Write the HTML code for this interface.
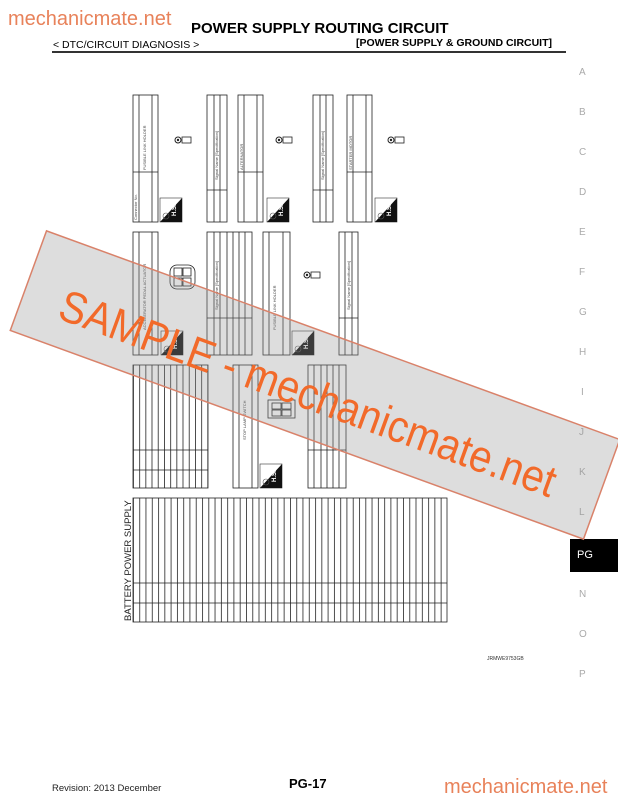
<!DOCTYPE html>
<html><head><meta charset="utf-8"><style>
html,body{margin:0;padding:0;background:#fff;}
body{width:618px;height:800px;position:relative;overflow:hidden;font-family:"Liberation Sans",sans-serif;}
.t{position:absolute;white-space:nowrap;}
.side{position:absolute;left:579px;font-size:10px;color:#aaa;}
</style></head><body>
<div class="t" style="left:8px;top:8px;font-size:20px;color:#e8825a;">mechanicmate.net</div>
<div class="t" style="left:191px;top:20px;font-size:15px;font-weight:bold;">POWER SUPPLY ROUTING CIRCUIT</div>
<div class="t" style="left:53px;top:39px;font-size:10.5px;">&lt; DTC/CIRCUIT DIAGNOSIS &gt;</div>
<div class="t" style="left:356px;top:37px;font-size:10.5px;font-weight:bold;">[POWER SUPPLY &amp; GROUND CIRCUIT]</div>
<div style="position:absolute;left:52px;top:51px;width:514px;height:2px;background:#333;"></div>

<div class="side" style="top:67px">A</div>
<div class="side" style="top:107px">B</div>
<div class="side" style="top:147px">C</div>
<div class="side" style="top:187px">D</div>
<div class="side" style="top:227px">E</div>
<div class="side" style="top:267px">F</div>
<div class="side" style="top:307px">G</div>
<div class="side" style="top:347px">H</div>
<div class="side" style="top:387px;left:581px">I</div>
<div class="side" style="top:427px">J</div>
<div class="side" style="top:467px">K</div>
<div class="side" style="top:507px">L</div>
<div style="position:absolute;left:570px;top:539px;width:48px;height:33px;background:#000;"></div>
<div class="t" style="left:577px;top:549px;font-size:11px;color:#fff;">PG</div>
<div class="side" style="top:589px">N</div>
<div class="side" style="top:629px">O</div>
<div class="side" style="top:669px">P</div>

<svg width="618" height="800" style="position:absolute;left:0;top:0" xmlns="http://www.w3.org/2000/svg">
<defs>
<pattern id="vl" x="133" y="0" width="6.28" height="10" patternUnits="userSpaceOnUse"><rect x="0" y="0" width="0.8" height="10" fill="#222"/></pattern>
<pattern id="vl2" x="133" y="0" width="6.2" height="10" patternUnits="userSpaceOnUse"><rect x="0" y="0" width="0.8" height="10" fill="#222"/></pattern>
<g id="hs"><rect x="0" y="0" width="22" height="24" fill="#fff" stroke="#333" stroke-width="0.6"/><polygon points="22,0 22,24 0,24" fill="#111"/><text x="16" y="18" font-size="6" fill="#fff" font-weight="bold" transform="rotate(-90 16 18)">H.S.</text><circle cx="6" cy="18" r="3" fill="none" stroke="#555" stroke-width="0.6"/></g>
<g id="tag"><circle cx="3" cy="3" r="3" fill="none" stroke="#222" stroke-width="1"/><circle cx="3" cy="3" r="1.2" fill="#222"/><rect x="7" y="0" width="9" height="6" fill="none" stroke="#222" stroke-width="0.8"/></g>
</defs>
<g fill="none" stroke="#222" stroke-width="0.8">
<rect x="133" y="95" width="25" height="127"/><line x1="139" y1="95" x2="139" y2="222"/><line x1="152" y1="95" x2="152" y2="222"/><line x1="133" y1="172" x2="158" y2="172"/>
<rect x="207" y="95" width="20" height="127"/><line x1="214" y1="95" x2="214" y2="222"/><line x1="220" y1="95" x2="220" y2="222"/><line x1="207" y1="190" x2="227" y2="190"/>
<rect x="238" y="95" width="25" height="127"/><line x1="244" y1="95" x2="244" y2="222"/><line x1="257" y1="95" x2="257" y2="222"/><line x1="238" y1="172" x2="263" y2="172"/>
<rect x="313" y="95" width="20" height="127"/><line x1="320" y1="95" x2="320" y2="222"/><line x1="326" y1="95" x2="326" y2="222"/><line x1="313" y1="190" x2="333" y2="190"/>
<rect x="347" y="95" width="25" height="127"/><line x1="353" y1="95" x2="353" y2="222"/><line x1="366" y1="95" x2="366" y2="222"/><line x1="347" y1="172" x2="372" y2="172"/>
<rect x="133" y="232" width="25" height="123"/><line x1="139" y1="232" x2="139" y2="355"/><line x1="152" y1="232" x2="152" y2="355"/>
<rect x="207" y="232" width="45" height="123"/><line x1="214" y1="232" x2="214" y2="355"/><line x1="220" y1="232" x2="220" y2="355"/><line x1="227" y1="232" x2="227" y2="355"/><line x1="233" y1="232" x2="233" y2="355"/><line x1="239" y1="232" x2="239" y2="355"/><line x1="245" y1="232" x2="245" y2="355"/><line x1="207" y1="318" x2="252" y2="318"/>
<rect x="263" y="232" width="27" height="123"/><line x1="269" y1="232" x2="269" y2="355"/><line x1="283" y1="232" x2="283" y2="355"/>
<rect x="339" y="232" width="19" height="123"/><line x1="345" y1="232" x2="345" y2="355"/><line x1="352" y1="232" x2="352" y2="355"/><line x1="339" y1="318" x2="358" y2="318"/>
<rect x="170" y="265" width="25" height="24" rx="7"/><rect x="174" y="268" width="8" height="8"/><rect x="183" y="268" width="8" height="8"/><rect x="174" y="278" width="8" height="8"/><rect x="183" y="278" width="8" height="8"/>
<rect x="133" y="365" width="75" height="123"/><line x1="133" y1="450" x2="208" y2="450"/><line x1="133" y1="470" x2="208" y2="470"/>
<rect x="233" y="365" width="25" height="123"/><line x1="239" y1="365" x2="239" y2="488"/><line x1="252" y1="365" x2="252" y2="488"/>
<rect x="308" y="365" width="38" height="123"/><line x1="314" y1="365" x2="314" y2="488"/><line x1="321" y1="365" x2="321" y2="488"/><line x1="327" y1="365" x2="327" y2="488"/><line x1="333" y1="365" x2="333" y2="488"/><line x1="339" y1="365" x2="339" y2="488"/><line x1="308" y1="450" x2="346" y2="450"/>
<rect x="268" y="400" width="27" height="18"/><rect x="272" y="403" width="9" height="6"/><rect x="282" y="403" width="9" height="6"/><rect x="272" y="410" width="9" height="6"/><rect x="282" y="410" width="9" height="6"/>
<rect x="133" y="498" width="314" height="124"/><line x1="133" y1="583" x2="447" y2="583"/><line x1="133" y1="603" x2="447" y2="603"/>
</g>
<rect x="133" y="365" width="75" height="123" fill="url(#vl2)"/>
<rect x="133" y="498" width="314" height="124" fill="url(#vl)"/>
<use href="#hs" x="160" y="198"/><use href="#hs" x="267" y="198"/><use href="#hs" x="375" y="198"/>
<use href="#hs" x="161" y="331"/><use href="#hs" x="292" y="331"/><use href="#hs" x="260" y="464"/>
<use href="#tag" x="175" y="137"/><use href="#tag" x="276" y="137"/><use href="#tag" x="388" y="137"/><use href="#tag" x="304" y="272"/>
<g font-size="4" fill="#444">
<text transform="translate(137,220) rotate(-90)">Connector No.</text><text transform="translate(146,170) rotate(-90)">FUSIBLE LINK HOLDER</text>
<text transform="translate(243,170) rotate(-90)">ALTERNATOR</text><text transform="translate(352,170) rotate(-90)">STARTER MOTOR</text>
<text transform="translate(218,180) rotate(-90)">Signal Name [Specification]</text><text transform="translate(324,180) rotate(-90)">Signal Name [Specification]</text>
<text transform="translate(146,330) rotate(-90)">ACCELERATOR PEDAL ACTUATOR</text><text transform="translate(276,330) rotate(-90)">FUSIBLE LINK HOLDER</text>
<text transform="translate(218,310) rotate(-90)">Signal Name [Specification]</text><text transform="translate(350,310) rotate(-90)">Signal Name [Specification]</text>
<text transform="translate(246,440) rotate(-90)">STOP LAMP SWITCH</text>
</g>
<text transform="translate(131,621) rotate(-90)" font-size="9.5" fill="#222" font-family="Liberation Sans">BATTERY POWER SUPPLY</text>
<text x="487" y="660" font-size="5" fill="#333" font-family="Liberation Sans">JRMWE9753GB</text>
<g transform="translate(315,385) rotate(20)">
<rect x="-305" y="-53" width="610" height="106" fill="rgba(150,150,150,0.32)" stroke="#d9826a" stroke-width="1.5"/>
</g>
<text x="56" y="318" transform="rotate(20 56 318)" font-size="45" fill="#f26a2a" font-family="Liberation Sans" textLength="525" lengthAdjust="spacingAndGlyphs">SAMPLE - mechanicmate.net</text>
</svg>

<div class="t" style="left:52px;top:783px;font-size:9.5px;color:#222;">Revision: 2013 December</div>
<div class="t" style="left:289px;top:776px;font-size:13px;font-weight:bold;">PG-17</div>
<div class="t" style="left:444px;top:776px;font-size:20px;color:#e8825a;">mechanicmate.net</div>
</body></html>
